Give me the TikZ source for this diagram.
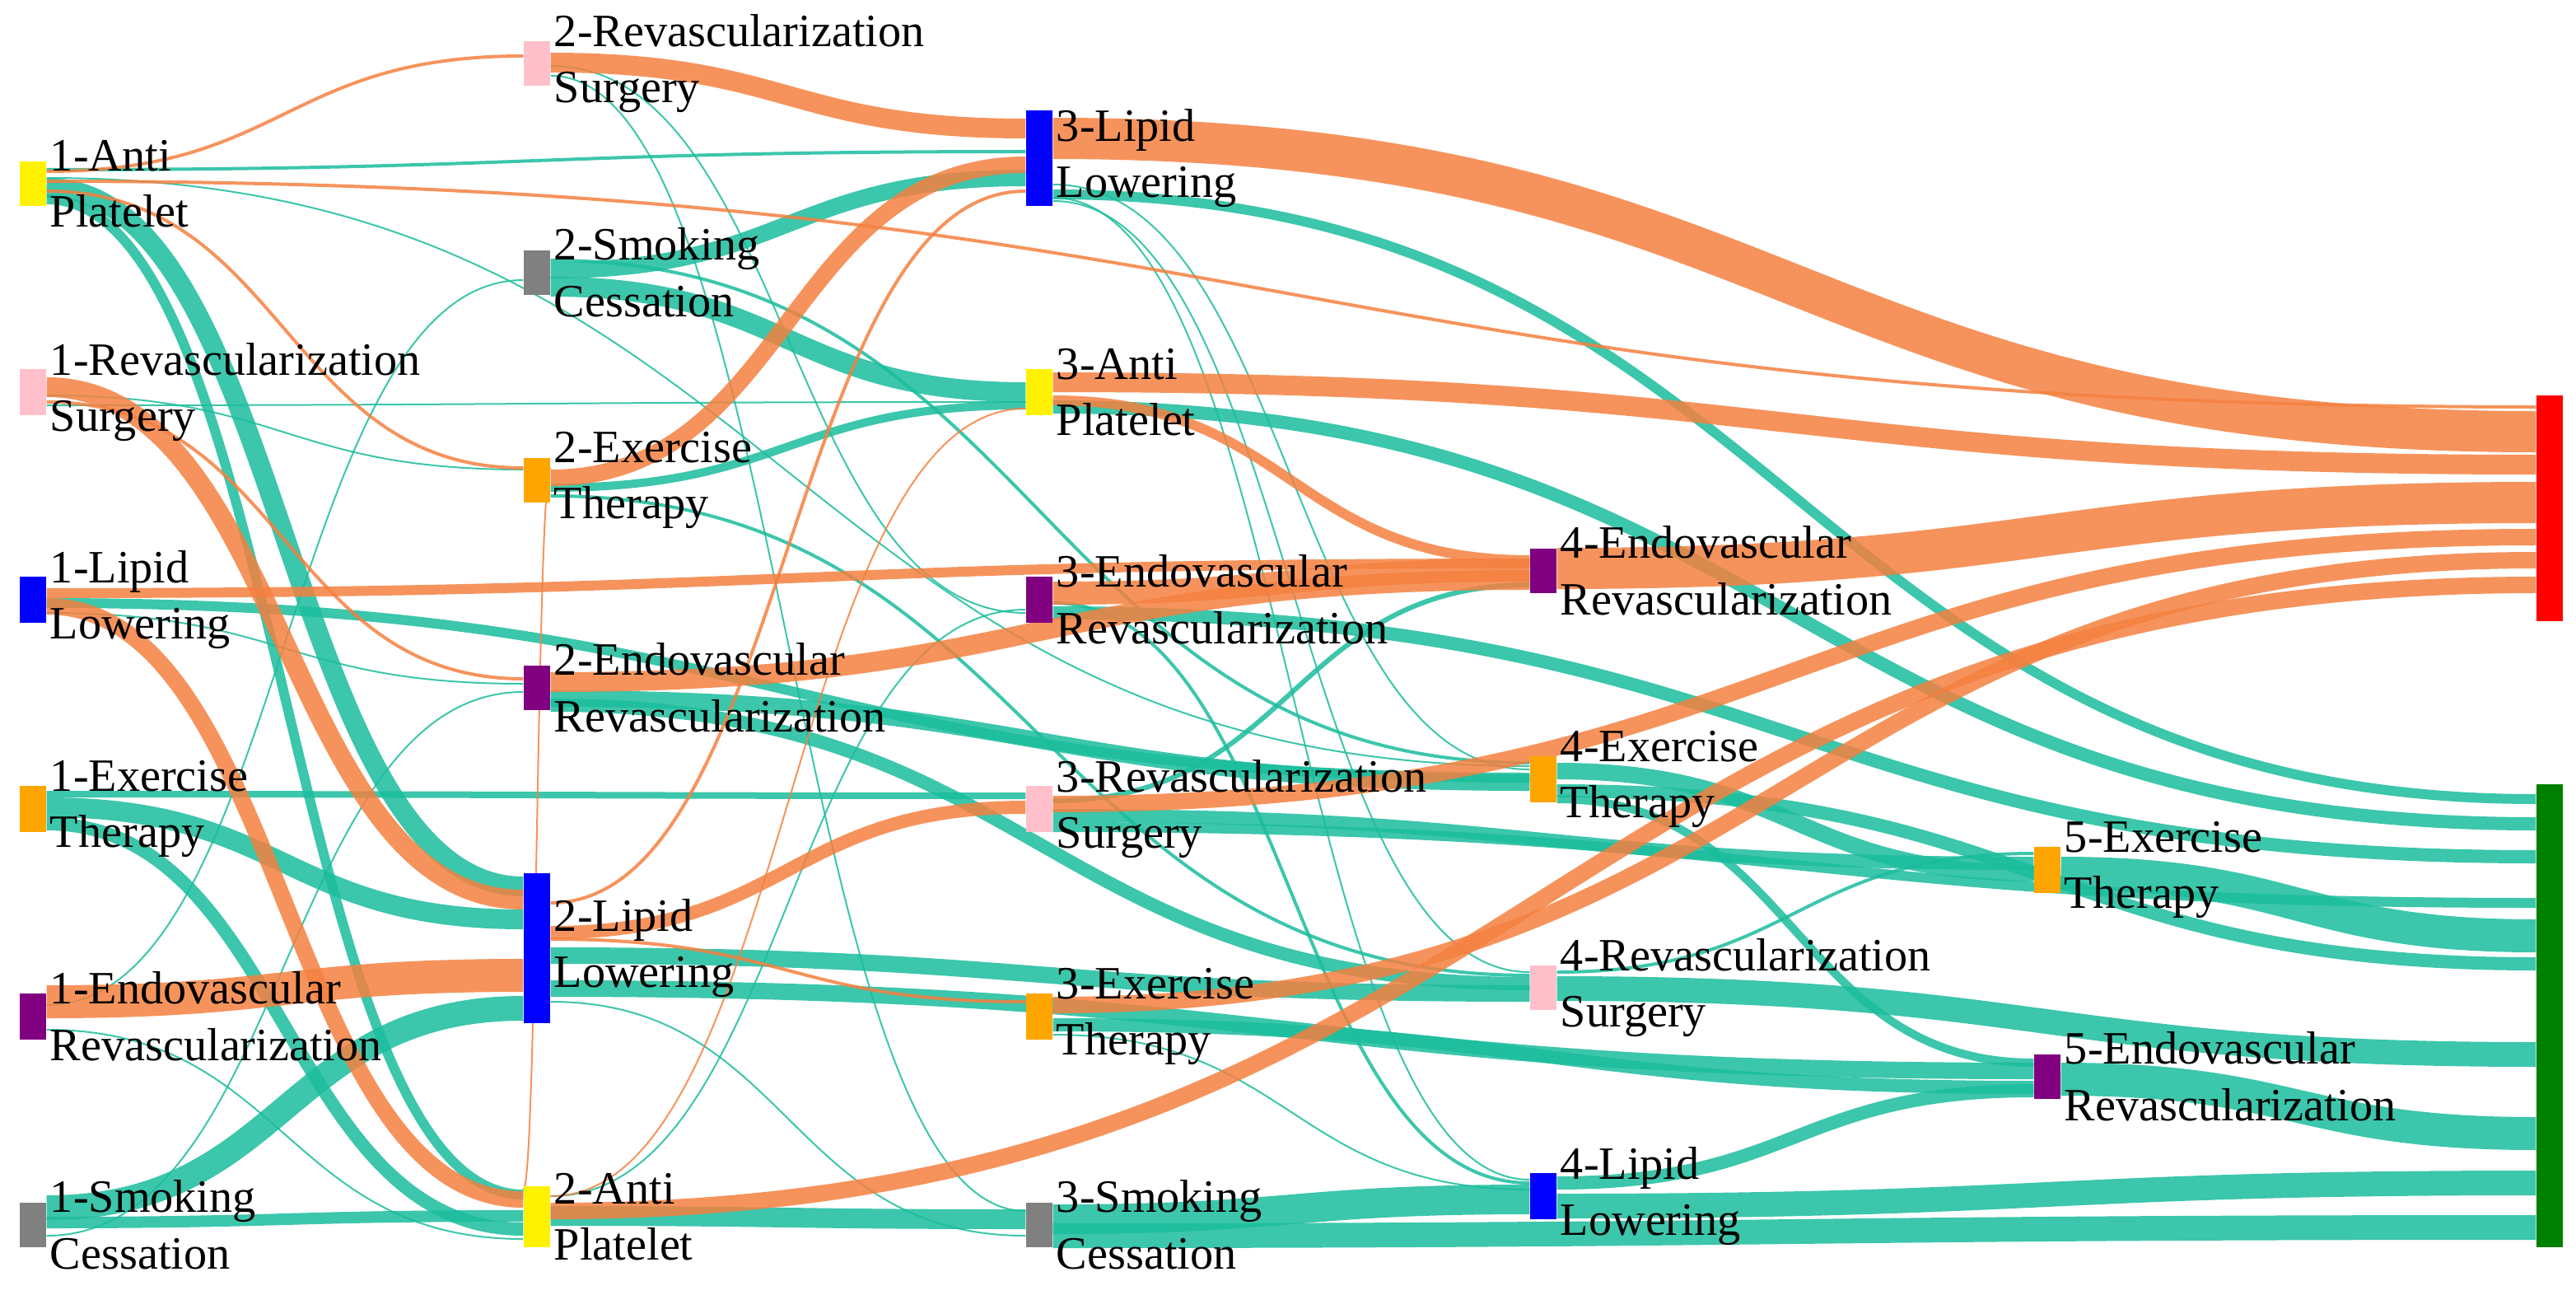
\documentclass[tikz,border=0pt]{standalone}
\usepackage{fontspec}
\setmainfont{Liberation Serif}
\usetikzlibrary{calc}
\definecolor{fo}{RGB}{244,128,64}
\definecolor{ft}{RGB}{26,188,156}
\definecolor{cpink}{HTML}{FFC0CB}
\definecolor{cpur}{HTML}{800080}
\definecolor{cgray}{HTML}{808080}
\definecolor{corg}{HTML}{FFA500}
\definecolor{cgrn}{HTML}{008000}
\tikzset{
  box/.style={draw=none,inner sep=0pt,minimum width=0.32cm},
  lbl/.style={anchor=west,align=left,inner sep=0pt,xshift=1pt,font=\fontsize{16}{19.5}\selectfont},
  o/.style={draw=fo,draw opacity=0.85},
  t/.style={draw=ft,draw opacity=0.85}
}
\newcommand\nd[5]{\node[box,fill=#5,minimum height={(#4-#3)*0.02cm}] (#1) at (#2,{(#3+#4)/2}) {};}
\newcommand\lb[3]{\node[lbl] at (#1.east) {#2\\#3};}
\newcommand\flow[6]{\draw[#1,line width=#2*0.02cm] let \p1=(#3.east), \p2=(#5.west), \p3=(0,#4), \p4=(0,#6), \n1={0.5*(\x2-\x1)} in (\x1,\y3) .. controls (\x1+\n1,\y3) and (\x2-\n1,\y4) .. (\x2,\y4);}
\newcommand\allnodes{%
\nd{A1}{20}{98}{125}{yellow}
\nd{R1}{20}{224}{252}{cpink}
\nd{L1}{20}{350}{378}{blue}
\nd{X1}{20}{477}{505}{corg}
\nd{N1}{20}{603}{631}{cpur}
\nd{S1}{20}{730}{757}{cgray}
\nd{R2}{326}{25}{52}{cpink}
\nd{S2}{326}{152}{179}{cgray}
\nd{X2}{326}{278}{305}{corg}
\nd{N2}{326}{404}{431}{cpur}
\nd{L2}{326}{530}{621}{blue}
\nd{A2}{326}{720}{757}{yellow}
\nd{L3}{631}{67}{125}{blue}
\nd{A3}{631}{224}{252}{yellow}
\nd{N3}{631}{350}{378}{cpur}
\nd{V3}{631}{477}{505}{cpink}
\nd{X3}{631}{603}{631}{corg}
\nd{S3}{631}{730}{757}{cgray}
\nd{N4}{937}{333}{360}{cpur}
\nd{X4}{937}{459}{487}{corg}
\nd{V4}{937}{586}{613}{cpink}
\nd{L4}{937}{712}{740}{blue}
\nd{X5}{1243}{514}{542}{corg}
\nd{E5}{1243}{640}{667}{cpur}
\nd{RD}{1548}{240}{377}{red}
\nd{GR}{1548}{476}{757}{cgrn}}
\begin{document}
\begin{tikzpicture}[x=0.02cm,y=-0.02cm]
\useasboundingbox (0,0) rectangle (1564,785.5);
\allnodes
% teal flows
\flow{t}{12}{A1}{114}{L2}{538}
\flow{t}{6}{A1}{121}{A2}{725}
\flow{t}{2}{A1}{103}{L3}{92}
\flow{t}{1}{A1}{108}{X4}{465}
\flow{t}{12}{X1}{490}{L2}{558}
\flow{t}{8}{X1}{500}{A2}{746}
\flow{t}{4}{X1}{482}{V3}{483}
\flow{t}{15}{S1}{733}{L2}{612}
\flow{t}{7}{S1}{742}{A2}{738}
\flow{t}{1}{S1}{750}{N2}{420}
\flow{t}{1}{N1}{610}{S2}{170}
\flow{t}{1}{N1}{625}{A2}{752}
\flow{t}{6}{L1}{366}{X4}{472}
\flow{t}{1}{L1}{372}{N2}{415}
\flow{t}{1}{R1}{240}{X2}{285}
\flow{t}{1}{R1}{246}{A3}{244}
\flow{t}{1}{R2}{40}{N3}{372}
\flow{t}{1}{R2}{46}{S3}{735}
\flow{t}{10}{S2}{164}{L3}{108}
\flow{t}{12}{S2}{174}{A3}{238}
\flow{t}{2}{S2}{158}{X4}{463}
\flow{t}{5}{X2}{296}{A3}{246}
\flow{t}{2}{X2}{301}{V4}{592}
\flow{t}{10}{N2}{424}{X4}{475}
\flow{t}{8}{N2}{428}{V4}{597}
\flow{t}{10}{L2}{580}{V4}{603}
\flow{t}{10}{L2}{600}{E5}{650}
\flow{t}{1}{L2}{608}{S3}{750}
\flow{t}{12}{A2}{738}{S3}{740}
\flow{t}{1}{A2}{726}{N3}{370}
\flow{t}{6}{L3}{118}{GR}{485}
\flow{t}{1}{L3}{112}{X4}{467}
\flow{t}{1}{L3}{122}{V4}{590}
\flow{t}{1}{L3}{120}{L4}{716}
\flow{t}{8}{A3}{247}{GR}{500}
\flow{t}{8}{N3}{372}{GR}{520}
\flow{t}{2}{N3}{366}{L4}{718}
\flow{t}{8}{V3}{495}{X5}{524}
\flow{t}{6}{V3}{502}{GR}{548}
\flow{t}{3}{V3}{486}{N4}{355}
\flow{t}{8}{X3}{622}{E5}{660}
\flow{t}{1}{X3}{628}{L4}{722}
\flow{t}{18}{S3}{740}{L4}{728}
\flow{t}{15}{S3}{750}{GR}{745}
\flow{t}{10}{X4}{468}{X5}{530}
\flow{t}{8}{X4}{480}{GR}{585}
\flow{t}{5}{X4}{485}{E5}{645}
\flow{t}{15}{V4}{600}{GR}{640}
\flow{t}{2}{V4}{590}{X5}{518}
\flow{t}{8}{L4}{718}{E5}{662}
\flow{t}{15}{L4}{732}{GR}{718}
\flow{t}{20}{X5}{530}{GR}{568}
\flow{t}{20}{E5}{655}{GR}{688}
% orange flows
\flow{o}{2}{A1}{110}{RD}{247}
\flow{o}{2}{A1}{104}{R2}{34}
\flow{o}{2}{A1}{116}{X2}{284}
\flow{o}{12}{R1}{235}{L2}{546}
\flow{o}{2}{R1}{244}{N2}{412}
\flow{o}{10}{L1}{368}{A2}{728}
\flow{o}{6}{L1}{360}{N4}{342}
\flow{o}{20}{N1}{608}{L2}{592}
\flow{o}{12}{R2}{38}{L3}{78}
\flow{o}{10}{X2}{290}{L3}{100}
\flow{o}{1}{X2}{284}{A2}{722}
\flow{o}{12}{N2}{414}{N4}{352}
\flow{o}{8}{L2}{566}{V3}{490}
\flow{o}{2}{L2}{548}{L3}{116}
\flow{o}{2}{L2}{570}{X3}{608}
\flow{o}{10}{A2}{735}{RD}{355}
\flow{o}{1}{A2}{726}{A3}{248}
\flow{o}{25}{L3}{84}{RD}{262}
\flow{o}{12}{A3}{232}{RD}{282}
\flow{o}{6}{A3}{243}{N4}{340}
\flow{o}{14}{N3}{360}{N4}{346}
\flow{o}{25}{N4}{345}{RD}{305}
\flow{o}{10}{V3}{488}{RD}{326}
\flow{o}{10}{X3}{610}{RD}{340}
% boxes on top
\allnodes
% labels
\lb{A1}{1-Anti}{Platelet}
\lb{R1}{1-Revascularization}{Surgery}
\lb{L1}{1-Lipid}{Lowering}
\lb{X1}{1-Exercise}{Therapy}
\lb{N1}{1-Endovascular}{Revascularization}
\lb{S1}{1-Smoking}{Cessation}
\lb{R2}{2-Revascularization}{Surgery}
\lb{S2}{2-Smoking}{Cessation}
\lb{X2}{2-Exercise}{Therapy}
\lb{N2}{2-Endovascular}{Revascularization}
\lb{L2}{2-Lipid}{Lowering}
\lb{A2}{2-Anti}{Platelet}
\lb{L3}{3-Lipid}{Lowering}
\lb{A3}{3-Anti}{Platelet}
\lb{N3}{3-Endovascular}{Revascularization}
\lb{V3}{3-Revascularization}{Surgery}
\lb{X3}{3-Exercise}{Therapy}
\lb{S3}{3-Smoking}{Cessation}
\lb{N4}{4-Endovascular}{Revascularization}
\lb{X4}{4-Exercise}{Therapy}
\lb{V4}{4-Revascularization}{Surgery}
\lb{L4}{4-Lipid}{Lowering}
\lb{X5}{5-Exercise}{Therapy}
\lb{E5}{5-Endovascular}{Revascularization}
\end{tikzpicture}
\end{document}
